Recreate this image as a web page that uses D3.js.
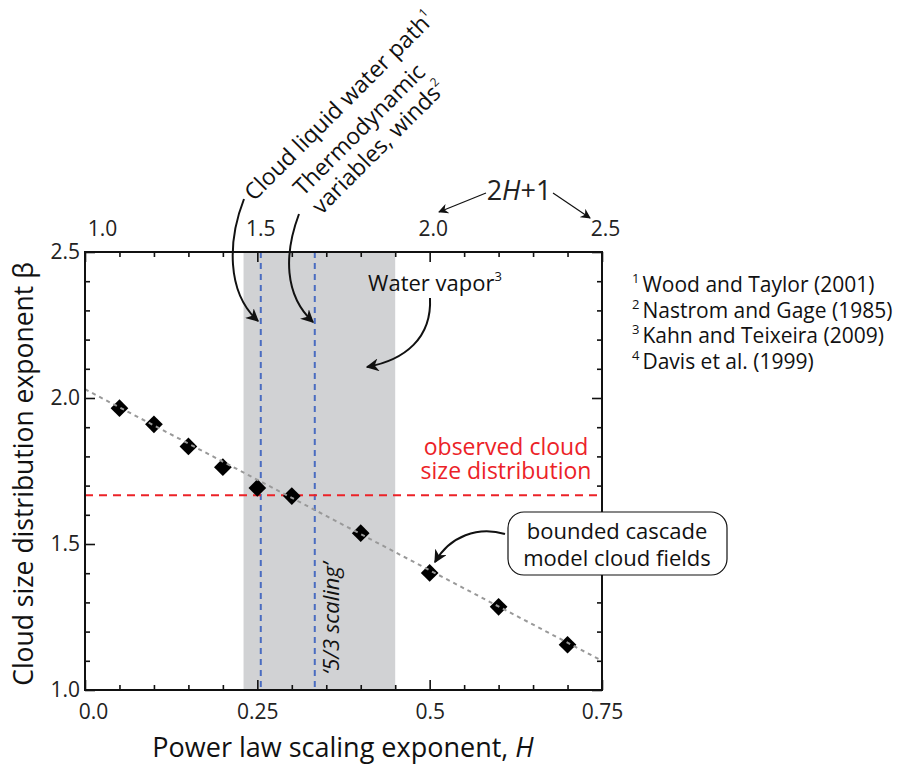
<!DOCTYPE html>
<html>
<head>
<meta charset="utf-8">
<script src="https://cdn.jsdelivr.net/npm/d3@7"></script>
<style>
  html, body { margin: 0; padding: 0; background: #fff; }
  svg { display: block; font-family: "Open Sans", "Noto Sans", sans-serif; }
</style>
</head>
<body>
<svg id="chart" width="918" height="767"></svg>
<script>
// Bounded cascade model cloud fields: power-law exponent H vs. cloud size exponent beta
const modelH    = [0.05, 0.10, 0.15, 0.20, 0.25, 0.30, 0.40, 0.50, 0.60, 0.70];
const modelBeta = [1.965, 1.910, 1.834, 1.763, 1.692, 1.664, 1.537, 1.401, 1.285, 1.155];

// Linear fit through the model points (endpoints at the plot edges)
const fitH    = [0.0, 0.75];
const fitBeta = [2.03, 1.10];

// Reference values
const waterVaporRange = [0.23, 0.45];   // Kahn and Teixeira (2009)
const lwpH            = [0.255];        // cloud liquid water path
const thermoH         = [1 / 3];        // thermodynamic variables, winds (5/3 scaling)
const observedBeta    = [5 / 3];        // observed cloud size distribution

// Axis ticks
const xMajor      = [0, 0.25, 0.5, 0.75];
const xMajorLabel = ["0.0", "0.25", "0.5", "0.75"];
const xMinor      = [0.05, 0.10, 0.15, 0.20, 0.30, 0.35, 0.40, 0.45, 0.55, 0.60, 0.65, 0.70];
const topMajor      = [1.0, 1.5, 2.0, 2.5];
const topMajorLabel = ["1.0", "1.5", "2.0", "2.5"];
const yMajor      = [1.0, 1.5, 2.0, 2.5];
const yMajorLabel = ["1.0", "1.5", "2.0", "2.5"];
const yMinor      = [1.1, 1.2, 1.3, 1.4, 1.6, 1.7, 1.8, 1.9, 2.1, 2.2, 2.3, 2.4];

const references = [
  ["1", "Wood and Taylor (2001)"],
  ["2", "Nastrom and Gage (1985)"],
  ["3", "Kahn and Teixeira (2009)"],
  ["4", "Davis et al. (1999)"]
];

const svg = d3.select("#chart");
const m = { left: 85, top: 252, right: 316, bottom: 77 };
const W = 918 - m.left - m.right;   // 517
const H = 767 - m.top - m.bottom;   // 438

const x = d3.scaleLinear().domain([0, 0.75]).range([0, W]);
const xTop = d3.scaleLinear().domain([1.0, 2.5]).range([0, W]);
const y = d3.scaleLinear().domain([1.0, 2.5]).range([H, 0]);

// arrowhead markers
const defs = svg.append("defs");
defs.append("marker")
  .attr("id", "head").attr("viewBox", "0 0 10 10")
  .attr("refX", 9).attr("refY", 5)
  .attr("markerWidth", 13).attr("markerHeight", 13)
  .attr("markerUnits", "userSpaceOnUse")
  .attr("orient", "auto")
  .append("path").attr("d", "M0,0 L10,5 L0,10 L3,5 Z").attr("fill", "#111");
defs.append("marker")
  .attr("id", "headSmall").attr("viewBox", "0 0 10 10")
  .attr("refX", 9).attr("refY", 5)
  .attr("markerWidth", 10).attr("markerHeight", 10)
  .attr("markerUnits", "userSpaceOnUse")
  .attr("orient", "auto")
  .append("path").attr("d", "M0,0 L10,5 L0,10 L3,5 Z").attr("fill", "#111");

const g = svg.append("g").attr("transform", `translate(${m.left},${m.top})`);

// water vapor band
g.append("rect")
  .attr("x", x(waterVaporRange[0])).attr("y", 0)
  .attr("width", x(waterVaporRange[1]) - x(waterVaporRange[0]))
  .attr("height", H)
  .attr("fill", "#d1d2d4");

// vertical reference lines
g.selectAll("line.vref").data(lwpH.concat(thermoH)).join("line")
  .attr("class", "vref")
  .attr("x1", d => x(d)).attr("x2", d => x(d))
  .attr("y1", 0).attr("y2", H)
  .attr("stroke", "#4a6cc0").attr("stroke-width", 2)
  .attr("stroke-dasharray", "6,5");

// observed beta
g.selectAll("line.href").data(observedBeta).join("line")
  .attr("class", "href")
  .attr("x1", 0).attr("x2", W)
  .attr("y1", d => y(d)).attr("y2", d => y(d))
  .attr("stroke", "#ec2227").attr("stroke-width", 2)
  .attr("stroke-dasharray", "8,6");

// model points
const diamond = d3.symbol().type(d3.symbolDiamond2).size(200);
g.selectAll("path.pt").data(modelH.map((h, i) => [h, modelBeta[i]])).join("path")
  .attr("class", "pt")
  .attr("transform", d => `translate(${x(d[0])},${y(d[1])})`)
  .attr("d", diamond)
  .attr("fill", "#000");

// fit line on top of the points
g.append("path")
  .datum(fitH.map((h, i) => [h, fitBeta[i]]))
  .attr("d", d3.line().x(d => x(d[0])).y(d => y(d[1])))
  .attr("fill", "none")
  .attr("stroke", "#999").attr("stroke-width", 2)
  .attr("stroke-dasharray", "4,4");

// axes
function styleAxis(sel) {
  sel.select(".domain").remove();
  sel.selectAll("line").attr("stroke", "#111").attr("stroke-width", 1.6);
  sel.selectAll("text").attr("font-size", 21).attr("fill", "#222")
    .attr("font-family", "'Open Sans', sans-serif");
}
// bottom
g.append("g").attr("transform", `translate(0,${H})`)
  .call(d3.axisBottom(x).tickValues(xMinor).tickSize(-5).tickFormat(""))
  .call(styleAxis);
g.append("g").attr("transform", `translate(0,${H})`)
  .call(d3.axisBottom(x).tickValues(xMajor).tickSize(-10).tickPadding(14)
    .tickFormat((d, i) => xMajorLabel[i]))
  .call(styleAxis)
  .call(s => s.selectAll(".tick text").attr("dx", (d, i) => i === 0 ? 8 : 0));
// top
g.append("g")
  .call(d3.axisTop(x).tickValues(xMinor).tickSize(-5).tickFormat(""))
  .call(styleAxis);
g.append("g")
  .call(d3.axisTop(xTop).tickValues(topMajor).tickSize(-10).tickPadding(16)
    .tickFormat((d, i) => topMajorLabel[i]))
  .call(styleAxis)
  .call(s => s.selectAll(".tick text").attr("dx", (d, i) => i === 0 ? 17 : 3));
// left
g.append("g")
  .call(d3.axisLeft(y).tickValues(yMinor).tickSize(-5).tickFormat(""))
  .call(styleAxis);
g.append("g")
  .call(d3.axisLeft(y).tickValues(yMajor).tickSize(-10).tickPadding(5)
    .tickFormat((d, i) => yMajorLabel[i]))
  .call(styleAxis);
// right
g.append("g").attr("transform", `translate(${W},0)`)
  .call(d3.axisRight(y).tickValues(yMinor).tickSize(-5).tickFormat(""))
  .call(styleAxis);
g.append("g").attr("transform", `translate(${W},0)`)
  .call(d3.axisRight(y).tickValues(yMajor).tickSize(-10).tickFormat(""))
  .call(styleAxis);

// frame
g.append("rect").attr("width", W).attr("height", H)
  .attr("fill", "none").attr("stroke", "#111").attr("stroke-width", 2);

// axis titles
svg.append("text")
  .attr("transform", `translate(33,${m.top + H / 2 + 3}) rotate(-90)`)
  .attr("text-anchor", "middle")
  .attr("font-size", 26.5).attr("fill", "#111")
  .text("Cloud size distribution exponent β");
svg.append("text")
  .attr("x", 343).attr("y", 757)
  .attr("text-anchor", "middle")
  .attr("font-size", 27).attr("fill", "#111")
  .call(t => {
    t.append("tspan").text("Power law scaling exponent, ");
    t.append("tspan").attr("font-style", "italic").text("H");
  });

// "5/3 scaling"
g.append("text")
  .attr("transform", `translate(${x(thermoH[0]) + 24},${y(1.245)}) rotate(-90)`)
  .attr("text-anchor", "middle")
  .attr("font-size", 22).attr("font-style", "italic").attr("fill", "#111")
  .text("‘5/3 scaling’");

// observed cloud size distribution
["observed cloud", "size distribution"].forEach((line, i) => {
  g.append("text")
    .attr("x", 421).attr("y", y(observedBeta[0]) - 40 + i * 24)
    .attr("text-anchor", "middle")
    .attr("font-size", 23).attr("fill", "#ec2227")
    .text(line);
});

// Water vapor label
g.append("text")
  .attr("x", 350).attr("y", 39)
  .attr("text-anchor", "middle")
  .attr("font-size", 22).attr("fill", "#111")
  .call(t => {
    t.append("tspan").text("Water vapor");
    t.append("tspan").attr("font-size", 13).attr("dy", -10).text("3");
  });
svg.append("path")
  .attr("d", "M430,298 C432,338 405,360 367,367")
  .attr("fill", "none").attr("stroke", "#111").attr("stroke-width", 2)
  .attr("marker-end", "url(#head)");

// bounded cascade box
svg.append("rect")
  .attr("x", 508).attr("y", 512).attr("width", 219).attr("height", 63)
  .attr("rx", 16).attr("ry", 16)
  .attr("fill", "#fff").attr("stroke", "#111").attr("stroke-width", 1.2);
svg.append("text")
  .attr("text-anchor", "middle").attr("font-size", 22).attr("fill", "#111")
  .selectAll("tspan").data(["bounded cascade", "model cloud fields"]).join("tspan")
  .attr("x", 617).attr("y", (d, i) => 539 + i * 27)
  .text(d => d);
svg.append("path")
  .attr("d", "M505,534 C478,526 450,536 435,562")
  .attr("fill", "none").attr("stroke", "#111").attr("stroke-width", 2)
  .attr("marker-end", "url(#head)");

// rotated source labels with arrows
svg.append("text")
  .attr("transform", "translate(254,202) rotate(-45)")
  .attr("font-size", 23).attr("fill", "#111")
  .call(t => {
    t.append("tspan").text("Cloud liquid water path");
    t.append("tspan").attr("font-size", 12).attr("dy", -10).text("1");
  });
svg.append("text")
  .attr("transform", "translate(303,197) rotate(-45)")
  .attr("font-size", 23).attr("fill", "#111")
  .call(t => {
    t.append("tspan").attr("x", 0).attr("y", 0).text("Thermodynamic");
    t.append("tspan").attr("x", 0).attr("y", 26).text("variables, winds");
    t.append("tspan").attr("font-size", 12).attr("dy", -10).text("2");
  });
svg.append("path")
  .attr("d", "M244,199 C228,240 226,292 258,321")
  .attr("fill", "none").attr("stroke", "#111").attr("stroke-width", 2)
  .attr("marker-end", "url(#head)");
svg.append("path")
  .attr("d", "M299,214 C284,254 284,295 313,322")
  .attr("fill", "none").attr("stroke", "#111").attr("stroke-width", 2)
  .attr("marker-end", "url(#head)");

// 2H+1 label for the top axis
svg.append("text")
  .attr("x", 519).attr("y", 200).attr("text-anchor", "middle")
  .attr("font-size", 27).attr("fill", "#222")
  .call(t => {
    t.append("tspan").text("2");
    t.append("tspan").attr("font-style", "italic").text("H");
    t.append("tspan").text("+1");
  });
svg.append("line")
  .attr("x1", 486).attr("y1", 193).attr("x2", 439).attr("y2", 212)
  .attr("stroke", "#111").attr("stroke-width", 1.2)
  .attr("marker-end", "url(#headSmall)");
svg.append("line")
  .attr("x1", 553).attr("y1", 193).attr("x2", 590).attr("y2", 218)
  .attr("stroke", "#111").attr("stroke-width", 1.2)
  .attr("marker-end", "url(#headSmall)");

// reference list
const ref = svg.append("g").attr("font-size", 21).attr("fill", "#111");
ref.selectAll("text").data(references).join("text")
  .attr("x", 632).attr("y", (d, i) => 292 + i * 25.5)
  .call(t => {
    t.append("tspan").attr("font-size", 13).attr("dy", -9).text(d => d[0]);
    t.append("tspan").attr("dx", 3).attr("dy", 9).text(d => d[1]);
  });
</script>
</body>
</html>
